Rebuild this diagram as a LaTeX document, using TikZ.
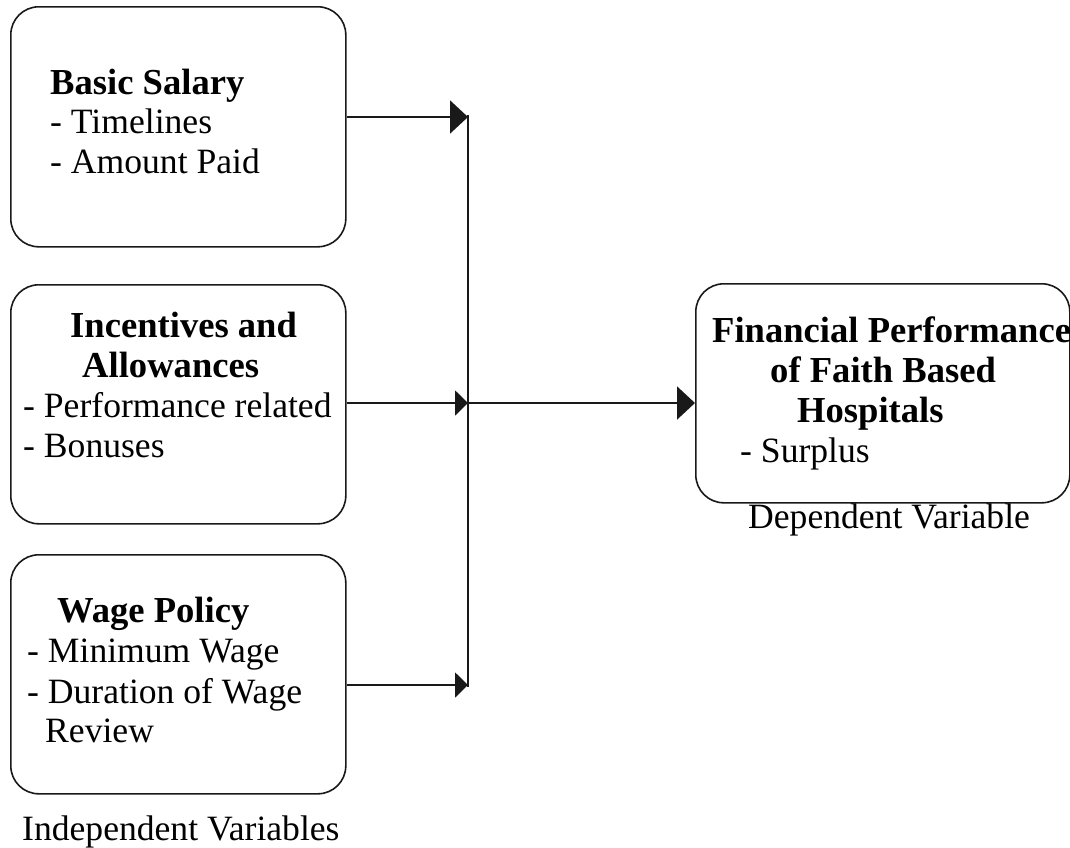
\documentclass[tikz,border=0pt]{standalone}
\usepackage{fontspec}
\setmainfont{Liberation Serif}
\usetikzlibrary{arrows.meta}
\begin{document}
\begin{tikzpicture}[x=1pt,y=-1pt,
  vbox/.style={draw=black!90, line width=1.6pt, rounded corners=28pt, inner sep=0pt, anchor=north west},
  txt/.style={anchor=base west, inner sep=0pt, font=\fontsize{35.6}{40}\selectfont},
  btxt/.style={txt, font=\fontsize{36.6}{40}\selectfont\bfseries},
  conn/.style={line width=2pt, black!90},
  bigtip/.style={-{Triangle[length=18pt,width=33pt]}},
  smalltip/.style={-{Triangle[length=13pt,width=25pt]}}]
\useasboundingbox (0,0) rectangle (1070,847);
% boxes
\node[vbox, minimum width=335pt, minimum height=240pt] (b1) at (10,6) {};
\node[vbox, minimum width=335pt, minimum height=239pt] (b2) at (10,284) {};
\node[vbox, minimum width=335pt, minimum height=239pt] (b3) at (10,554) {};
\node[vbox, minimum width=374pt, minimum height=219pt] (b4) at (695,283) {};
% texts box 1
\node[btxt] (t11) at (50,94) {Basic Salary};
\node[txt] (t12) at (50,133) {- Timelines};
\node[txt] (t13) at (50,173) {- Amount Paid};
% texts box 2
\node[btxt] (t21) at (70,337) {Incentives and};
\node[btxt] (t22) at (82,377) {Allowances};
\node[txt] (t23) at (23,417) {- Performance related};
\node[txt] (t24) at (23,457) {- Bonuses};
% texts box 3
\node[btxt] (t31) at (57,622) {Wage Policy};
\node[txt] (t32) at (27,662) {- Minimum Wage};
\node[txt] (t33) at (27,703) {- Duration of Wage};
\node[txt] (t34) at (45,742) {Review};
\node[txt] (t35) at (22,840) {Independent Variables};
% texts box 4
\node[btxt] (t41) at (712,342) {Financial Performance};
\node[btxt] (t42) at (770,382) {of Faith Based};
\node[btxt] (t43) at (797,422) {Hospitals};
\node[txt] (t44) at (740,462) {- Surplus};
\node[txt] (t45) at (748,528) {Dependent Variable};
% junction coordinates
\coordinate (j1) at (468,117);
\coordinate (j2) at (468,403);
\coordinate (j3) at (468,685);
% connectors
\draw[conn] (468,115) coordinate (vtop) -- (468,687) coordinate (vbot);
\draw[conn, bigtip] (b1.east |- j1) -- (j1);
\draw[conn, smalltip] (b2.east |- j2) -- (j2);
\draw[conn, smalltip] (b3.east |- j3) -- (j3);
\draw[conn, bigtip] (j2) -- (b4.west |- j2);
\end{tikzpicture}
\end{document}
